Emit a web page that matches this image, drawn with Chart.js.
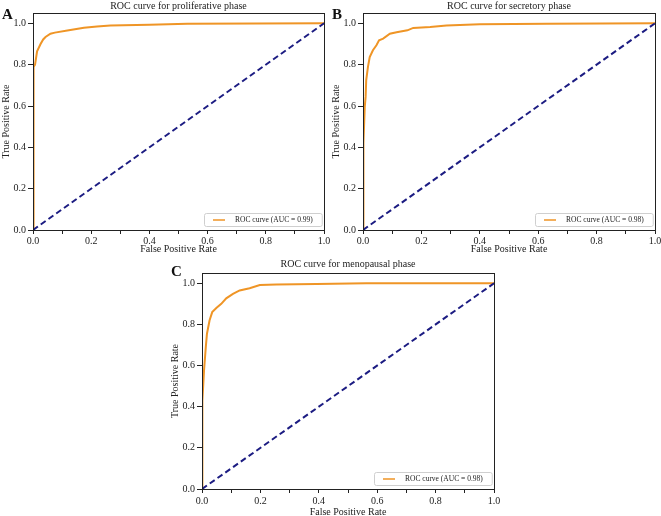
<!DOCTYPE html>
<html>
<head>
<meta charset="utf-8">
<script src="https://cdn.jsdelivr.net/npm/chart.js@4/dist/chart.umd.min.js"></script>
<style>
  body { margin: 0; background: #fff; }
  #wrap { position: relative; width: 661px; height: 516px; overflow: hidden; }
  canvas { position: absolute; }
</style>
</head>
<body>
<div id="wrap">
  <canvas id="chartC" width="340" height="268" style="left:169px;top:250px"></canvas>
  <canvas id="chartA" width="340" height="255" style="left:0;top:0"></canvas>
  <canvas id="chartB" width="331" height="255" style="left:330px;top:0"></canvas>
</div>
<script>
// ROC points (false positive rate / true positive rate)
const fprA = [0, 0.000, 0.003, 0.003, 0.007, 0.014, 0.026, 0.035, 0.043, 0.06, 0.075, 0.118, 0.175, 0.22, 0.266, 0.40, 0.53, 1.0];
const tprA = [0, 0.50, 0.71, 0.789, 0.80, 0.865, 0.90, 0.922, 0.934, 0.95, 0.955, 0.965, 0.979, 0.985, 0.99, 0.993, 0.998, 1.0];

const fprB = [0, 0.000, 0.003, 0.006, 0.009, 0.011, 0.017, 0.023, 0.034, 0.046, 0.055, 0.069, 0.092, 0.115, 0.152, 0.172, 0.23, 0.286, 0.40, 0.63, 1.0];
const tprB = [0, 0.42, 0.42, 0.596, 0.644, 0.725, 0.789, 0.837, 0.87, 0.894, 0.918, 0.926, 0.95, 0.957, 0.966, 0.978, 0.982, 0.989, 0.995, 0.998, 1.0];

const fprC = [0, 0.000, 0.001, 0.003, 0.007, 0.013, 0.017, 0.026, 0.035, 0.049, 0.066, 0.083, 0.106, 0.129, 0.163, 0.198, 0.255, 0.392, 0.563, 1.0];
const tprC = [0, 0.10, 0.255, 0.43, 0.577, 0.69, 0.755, 0.82, 0.86, 0.88, 0.90, 0.927, 0.948, 0.965, 0.976, 0.992, 0.994, 0.997, 1.0, 1.0];

const chanceLine = [0, 1];

const panelTitles = ['ROC curve for proliferative phase', 'ROC curve for secretory phase', 'ROC curve for menopausal phase'];
const panelLetters = ['A', 'B', 'C'];
const aucLabels = ['ROC curve (AUC = 0.99)', 'ROC curve (AUC = 0.98)', 'ROC curve (AUC = 0.98)'];

const SERIF = '"Liberation Serif", "Times New Roman", serif';
const ORANGE = '#ef9526';
const NAVY = '#1c1c82';

// Frame, panel letter and legend box in the lower right corner
const panelDecor = {
    id: 'panelDecor',
    afterDraw(chart, args, opts) {
        const { ctx, chartArea: a } = chart;
        ctx.save();
        ctx.strokeStyle = '#222';
        ctx.lineWidth = 1;
        ctx.strokeRect(Math.round(a.left) + 0.5, Math.round(a.top) + 0.5,
            Math.round(a.right - a.left), Math.round(a.bottom - a.top));

        // panel letter
        ctx.fillStyle = '#111';
        ctx.font = 'bold 15px ' + SERIF;
        ctx.textBaseline = 'middle';
        ctx.textAlign = 'left';
        ctx.fillText(opts.letter, opts.letterX, opts.letterY);

        // legend
        const ds = chart.data.datasets[1];
        ctx.font = '7.5px ' + SERIF;
        const textW = ctx.measureText(ds.label).width;
        const h = 13;
        const w = textW + 40;
        const x = Math.round(a.right - w - 2);
        const y = Math.round(a.bottom - h - 4);
        ctx.fillStyle = 'rgba(255,255,255,0.9)';
        ctx.strokeStyle = '#cfcfcf';
        ctx.beginPath();
        ctx.roundRect(x + 0.5, y + 0.5, w, h, 2);
        ctx.fill();
        ctx.stroke();
        ctx.strokeStyle = ds.borderColor;
        ctx.lineWidth = 1.5;
        ctx.beginPath();
        ctx.moveTo(x + 9, y + h / 2 + 0.5);
        ctx.lineTo(x + 21, y + h / 2 + 0.5);
        ctx.stroke();
        ctx.fillStyle = '#222';
        ctx.fillText(ds.label, x + 31, y + h / 2 + 1);
        ctx.restore();
    }
};

const makeRoc = (id, idx, fpr, tpr, cfg) => {
    const ctx = document.getElementById(id).getContext('2d');
    return new Chart(ctx, {
        type: 'scatter',
        data: {
            datasets: [
                {
                    label: 'chance',
                    data: chanceLine.map(v => ({ x: v, y: v })),
                    showLine: true,
                    borderColor: NAVY,
                    borderWidth: 2,
                    borderDash: [6, 3.5],
                    pointRadius: 0
                },
                {
                    label: aucLabels[idx],
                    data: fpr.map((v, i) => ({ x: v, y: tpr[i] })),
                    showLine: true,
                    borderColor: ORANGE,
                    borderWidth: 2,
                    pointRadius: 0
                }
            ]
        },
        options: {
            responsive: false,
            animation: false,
            devicePixelRatio: 1,
            layout: { padding: { left: 0, right: cfg.padRight, top: 0, bottom: 0 } },
            scales: {
                x: {
                    type: 'linear',
                    min: 0,
                    max: 1,
                    afterFit: s => {
                        s.height = cfg.xHeight;
                        s.paddingLeft = 0;
                        s.paddingRight = 0;
                    },
                    ticks: {
                        stepSize: 0.1,
                        includeBounds: false,
                        maxRotation: 0,
                        autoSkip: false,
                        padding: cfg.tickPad,
                        color: '#222',
                        font: { family: SERIF, size: 10 },
                        callback: v => (Math.round(v * 10) % 2 === 0 ? v.toFixed(1) : '')
                    },
                    grid: { drawOnChartArea: false, tickLength: 4, color: '#222' },
                    border: { color: '#222' },
                    title: {
                        display: true,
                        text: 'False Positive Rate',
                        color: '#222',
                        padding: 0,
                        font: { family: SERIF, size: 10 }
                    }
                },
                y: {
                    type: 'linear',
                    min: 0,
                    max: 1.05,
                    afterFit: s => { s.width = 33; },
                    ticks: {
                        stepSize: 0.2,
                        includeBounds: false,
                        padding: 2,
                        color: '#222',
                        font: { family: SERIF, size: 10 },
                        callback: v => v.toFixed(1)
                    },
                    grid: { drawOnChartArea: false, tickLength: 5, color: '#222' },
                    border: { color: '#222' },
                    title: {
                        display: true,
                        text: 'True Positive Rate',
                        color: '#222',
                        padding: 0,
                        font: { family: SERIF, size: 10 }
                    }
                }
            },
            plugins: {
                legend: { display: false },
                tooltip: { enabled: false },
                title: {
                    display: true,
                    fullSize: false,
                    text: panelTitles[idx],
                    color: '#222',
                    padding: cfg.titlePad,
                    font: { family: SERIF, size: 10, weight: 'normal' }
                },
                panelDecor: { letter: panelLetters[idx], letterX: cfg.letterX, letterY: cfg.letterY }
            }
        },
        plugins: [panelDecor]
    });
};

makeRoc('chartA', 0, fprA, tprA, { padRight: 16, xHeight: 25, tickPad: 1, titlePad: { top: 0, bottom: 1 }, letterX: 2, letterY: 15 });
makeRoc('chartB', 1, fprB, tprB, { padRight: 6, xHeight: 25, tickPad: 1, titlePad: { top: 0, bottom: 1 }, letterX: 2, letterY: 15 });
makeRoc('chartC', 2, fprC, tprC, { padRight: 15, xHeight: 29, tickPad: 2, titlePad: { top: 8, bottom: 3 }, letterX: 2, letterY: 22 });
</script>
</body>
</html>
